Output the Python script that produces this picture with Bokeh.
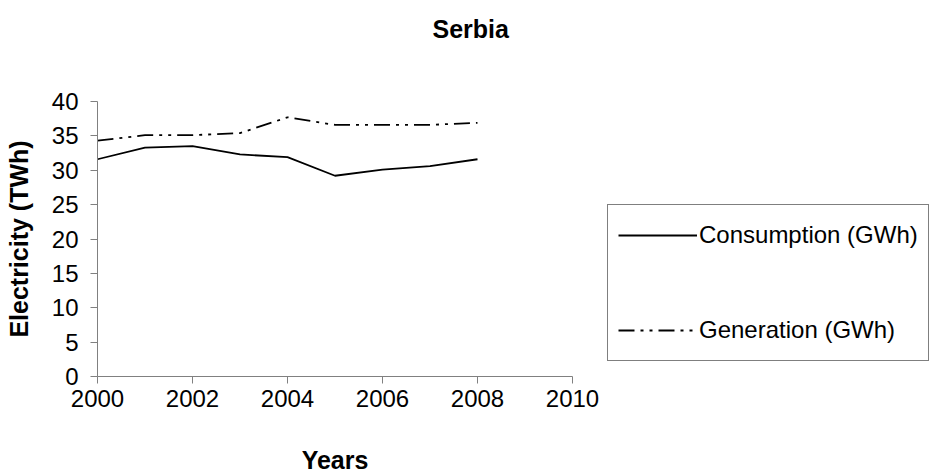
from bokeh.plotting import figure
from bokeh.models import Range1d, FixedTicker, Legend, LegendItem, Title
from bokeh.embed import file_html
from bokeh.resources import INLINE

years = [2000, 2001, 2002, 2003, 2004, 2005, 2006, 2007, 2008]
consumption = [31.6, 33.3, 33.5, 32.3, 31.9, 29.2, 30.1, 30.6, 31.6]
generation = [34.3, 35.1, 35.1, 35.4, 37.7, 36.6, 36.6, 36.6, 36.9]
x_ticks = [2000, 2002, 2004, 2006, 2008, 2010]
y_ticks = [0, 5, 10, 15, 20, 25, 30, 35, 40]

FONT = "Liberation Sans"

p = figure(title=None, frame_width=475, frame_height=275, output_backend="svg", toolbar_location=None,
           x_range=Range1d(2000, 2010), y_range=Range1d(0, 40),
           min_border_left=97, min_border_right=360, min_border_top=0, min_border_bottom=90)

# spacer between the title and the plot frame, then the title itself (outermost)
p.add_layout(Title(text=" ", text_font=FONT, text_font_size="10px", standoff=33), "above")
p.add_layout(Title(text="Serbia", align="left", offset=335, text_font=FONT,
                   text_font_size="25px", text_font_style="bold", text_color="black",
                   standoff=25), "above")

p.xgrid.visible = False
p.ygrid.visible = False
p.outline_line_color = None

for ax in (p.xaxis[0], p.yaxis[0]):
    ax.axis_line_color = "#808080"
    ax.major_tick_line_color = "#808080"
    ax.minor_tick_line_color = None
    ax.major_tick_in = 0
    ax.major_tick_out = 7
    ax.major_label_text_font = FONT
    ax.major_label_text_font_size = "24px"
    ax.major_label_text_color = "black"
    ax.axis_label_text_font = FONT
    ax.axis_label_text_font_size = "25px"
    ax.axis_label_text_font_style = "bold"
    ax.axis_label_text_color = "black"

p.xaxis.ticker = FixedTicker(ticks=x_ticks)
p.yaxis.ticker = FixedTicker(ticks=y_ticks)
p.xaxis.axis_label = "Years"
p.yaxis.axis_label = "Electricity (TWh)"
p.xaxis.axis_label_standoff = 36
p.yaxis.axis_label_standoff = 16
p.xaxis.major_label_standoff = 6
p.yaxis.major_label_standoff = 12

r1 = p.line(years, consumption, line_color="black", line_width=1.8)
r2 = p.line(years, generation, line_color="black", line_width=1.8, line_dash="16 6 3 6 3 6")

legend = Legend(items=[LegendItem(label="Consumption (GWh)", renderers=[r1]),
                       LegendItem(label="Generation (GWh)", renderers=[r2])],
                location=(35, 15), orientation="vertical",
                border_line_color="black", border_line_width=1,
                label_text_font=FONT, label_text_font_size="24px", label_text_color="black",
                glyph_width=79, glyph_height=40, label_height=40, label_standoff=2,
                spacing=55, padding=10, margin=0, background_fill_alpha=1)
p.add_layout(legend, "right")

open("out.html", "w").write(file_html(p, INLINE))
